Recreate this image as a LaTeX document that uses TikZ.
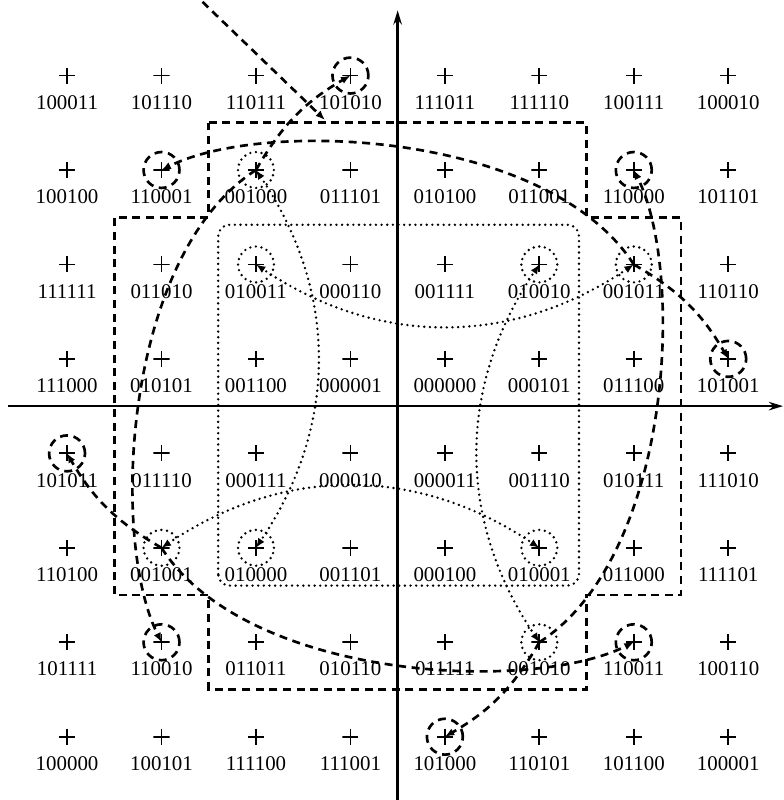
\documentclass[tikz,border=0pt]{standalone}
\usepackage{fontspec}
\setmainfont{Liberation Serif}
\usetikzlibrary{arrows.meta}

\begin{document}
\begin{tikzpicture}[
    pt/.style={inner sep=0pt, minimum size=0.17cm,
      path picture={\draw[line width=0.55pt]
        (path picture bounding box.north) -- (path picture bounding box.south)
        (path picture bounding box.west) -- (path picture bounding box.east);}},
    lbl/.style={inner sep=0pt, font=\fontsize{6.3}{7}\selectfont},
    dsh/.style={line width=0.8pt, dash pattern=on 2.4pt off 1.7pt},
    dts/.style={line width=0.8pt, line cap=round, dash pattern=on 0pt off 1.7pt},
    tip/.style={-{Latex[length=1mm,width=0.8mm]}},
    tips/.style={{Latex[length=1mm,width=0.8mm]}-{Latex[length=1mm,width=0.8mm]}}
  ]
  \useasboundingbox (-4.21,-4.17) rectangle (4.09,4.30);

  % Points and their labels, row by row
  \foreach \lab [count=\k from 0] in
    {100011,101110,110111,101010,111011,111110,100111,100010,
     100100,110001,001000,011101,010100,011001,110000,101101,
     111111,011010,010011,000110,001111,010010,001011,110110,
     111000,010101,001100,000001,000000,000101,011100,101001,
     101011,011110,000111,000010,000011,001110,010111,111010,
     110100,001001,010000,001101,000100,010001,011000,111101,
     101111,110010,011011,010110,011111,001010,110011,100110,
     100000,100101,111100,111001,101000,110101,101100,100001}
  {
    \pgfmathsetmacro\cx{mod(\k,8)-3.5}
    \pgfmathsetmacro\cy{3.5-int(\k/8)}
    \node[pt, label={[lbl, label distance=0.11cm]below:\lab}] (n\lab) at (\cx,\cy) {};
  }

  % Draw the dashed boundary and the dotted inner square
  \draw[dsh] (-2,3) -- (2,3) -- (2,2) -- (3,2) -- (3,-2) -- (2,-2) -- (2,-3)
    -- (-2,-3) -- (-2,-2) -- (-3,-2) -- (-3,2) -- (-2,2) -- cycle;
  \draw[dts, rounded corners=0.12cm] (-1.9,-1.9) rectangle (1.92,1.92);

  % Axes
  \draw[line width=0.8pt, -{Stealth[length=1.5mm,width=0.9mm]}] (-4.12,0) -- (4.08,0);
  \draw[line width=0.8pt, -{Stealth[length=1.5mm,width=0.9mm]}] (0,-4.17) -- (0,4.19);

  % Circles round the chosen points
  \foreach \p in {101010,110001,110000,101001,101011,110010,110011,101000}
    \draw[dsh] (n\p.center) circle (0.19);
  \foreach \p in {001000,010011,010010,001011,001001,010000,010001,001010}
    \draw[dts] (n\p.center) circle (0.19);

  % Dotted swaps inside the square
  \draw[dts, tips] (n001011.center) to[bend left=34] (n010011.center);
  \draw[dts, tips] (n001000.center) to[bend left=34] (n010000.center);
  \draw[dts, tips] (n001010.center) to[bend left=34] (n010010.center);
  \draw[dts, tips] (n001001.center) to[bend left=34] (n010001.center);

  % Dashed moves to the outer points
  \draw[dsh, tip] (n001000.center) to[bend left=15] (n101010.center);
  \draw[dsh, tip] (n001011.center) to[bend left=15] (n101001.center);
  \draw[dsh, tip] (n001010.center) to[bend left=15] (n101000.center);
  \draw[dsh, tip] (n001001.center) to[bend left=15] (n101011.center);
  \draw[dsh, tip] (n001011.center) .. controls (1.6,2.9) and (-1.4,3.05) .. (n110001.center);
  \draw[dsh, tip] (n001010.center) .. controls (2.9,-1.6) and (3.05,1.4) .. (n110000.center);
  \draw[dsh, tip] (n001001.center) .. controls (-1.6,-2.9) and (1.4,-3.05) .. (n110011.center);
  \draw[dsh, tip] (n001000.center) .. controls (-2.9,1.6) and (-3.05,-1.4) .. (n110010.center);

  % Pointer to the boundary
  \coordinate (ptrA) at (-2.17,4.38);
  \coordinate (ptrB) at (-0.77,3.03);
  \draw[dsh, tip] (ptrA) -- (ptrB);
\end{tikzpicture}
\end{document}
